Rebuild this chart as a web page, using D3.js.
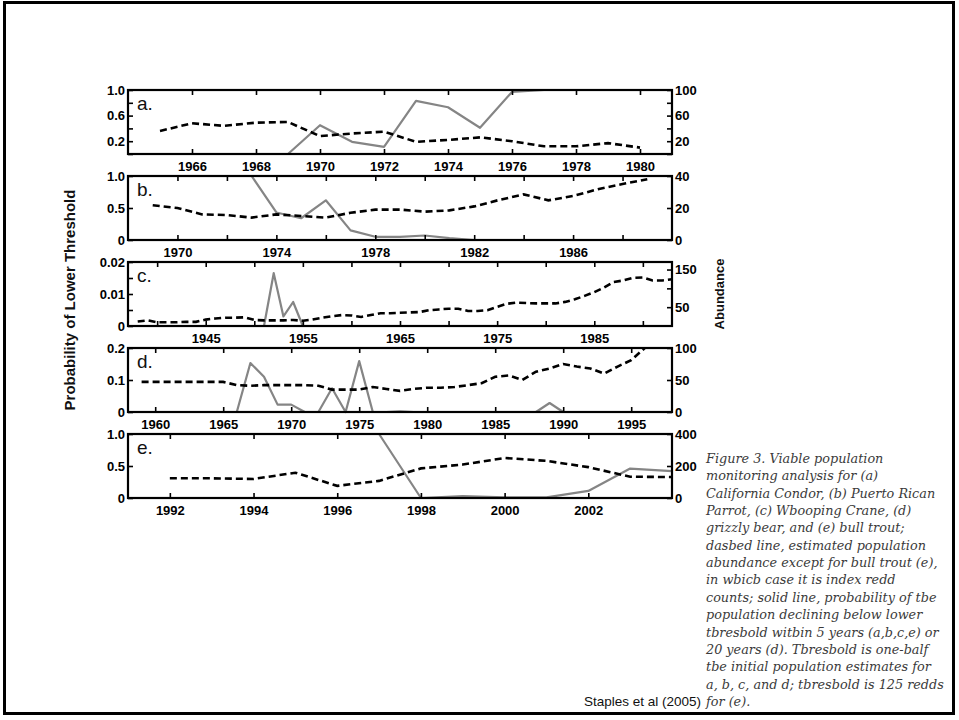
<!DOCTYPE html>
<html><head><meta charset="utf-8">
<script src="https://cdn.jsdelivr.net/npm/d3@7/dist/d3.min.js"></script>
<style>body{margin:0;background:#fff}svg{display:block}</style>
</head><body>
<svg id="chart" width="959" height="720"></svg>
<script>
// ---------------- DATA ----------------
// (a) California Condor
const yearsA = [1965,1966,1967,1968,1969,1970,1971,1972,1973,1974,1975,1976,1977,1978,1979,1980];
const abundanceA = [36,48,44,49,50,28,32,35,19,22,26,20,12,12,17,10];
const probYearsA = [1969,1970,1971,1972,1973,1974,1975,1976,1977,1978,1979,1980];
const probA = [0,0.45,0.19,0.11,0.83,0.73,0.41,0.97,1,1,1,1];
const xTicksA = [1966,1968,1970,1972,1974,1976,1978,1980];

// (b) Puerto Rican Parrot
const yearsB = [1969,1970,1971,1972,1973,1974,1975,1976,1977,1978,1979,1980,1981,1982,1983,1984,1985,1986,1987,1988,1989];
const abundanceB = [21.7,20,16,15.6,14,16,15,14,17,19,19,17.7,18.5,21,25,28.5,24.8,27.5,31.7,35,38];
const probYearsB = [1973,1974,1975,1976,1977,1978,1979,1980,1981,1982,1983,1984,1985,1986,1987,1988,1989];
const probB = [1,0.43,0.34,0.62,0.15,0.05,0.05,0.07,0.03,0,0,0,0,0,0,0,0];
const xTicksB = [1970,1972,1974,1976,1978,1980,1982,1984,1986,1988];
const xLabelsB = [1970,1974,1978,1982,1986];

// (c) Whooping Crane
const yearsC = [1938,1939,1940,1941,1942,1943,1944,1945,1946,1947,1948,1949,1950,1951,1952,1953,1954,1955,1956,1957,1958,1959,1960,1961,1962,1963,1964,1965,1966,1967,1968,1969,1970,1971,1972,1973,1974,1975,1976,1977,1978,1979,1980,1981,1982,1983,1984,1985,1986,1987,1988,1989,1990,1991,1992,1993];
const abundanceC = [12,15,10,10,10,11,11,17,20,22,22,23,16,15,15,15,16,14,17,22,26,29,28,24,29,34,34,35,36,37,42,44,46,46,40,40,42,51,59,62,61,60,60,60,64,71,80,90,102,117,121,128,129,121,121,124];
const probYearsC = [1950,1951,1952,1953,1954,1955,1956];
const probC = [0,0,0.0165,0.003,0.0075,0,0];
const xTicksC = [1940,1945,1950,1955,1960,1965,1970,1975,1980,1985,1990];
const xLabelsC = [1945,1955,1965,1975,1985];

// (d) Grizzly bear
const yearsD = [1959,1960,1961,1962,1963,1964,1965,1966,1967,1968,1969,1970,1971,1972,1973,1974,1975,1976,1977,1978,1979,1980,1981,1982,1983,1984,1985,1986,1987,1988,1989,1990,1991,1992,1993,1994,1995,1996];
const abundanceD = [47,47,47,47,47,47,47,42,41,42,42,42,42,41,35,35,35,39,36,33,36,38,38,39,42,45,55,57,50,63,68,75,71,68,60,71,81,100];
const probYearsD = [1966,1967,1968,1969,1970,1971,1972,1973,1974,1975,1976,1977,1978,1979,1980,1981,1982,1983,1984,1985,1986,1987,1988,1989,1990];
const probD = [0,0.153,0.11,0.023,0.023,0,0,0.074,0,0.159,0,0,0.002,0,0,0,0,0,0,0,0,0,0,0.028,0];
const xTicksD = [1960,1965,1970,1975,1980,1985,1990,1995];

// (e) Bull trout
const yearsE = [1992,1993,1994,1995,1996,1997,1998,1999,2000,2001,2002,2003,2004];
const abundanceE = [123,123,119,158,76,107,185,209,250,232,193,133,131];
const probYearsE = [1994,1995,1996,1997,1998,1999,2000,2001,2002,2003,2004];
const probE = [1,1,1,1,0,0.03,0.01,0.01,0.11,0.46,0.42];
const xTicksE = [1992,1994,1996,1998,2000,2002];

// axis ticks
const leftTicksA = [0,0.2,0.4,0.6,0.8,1.0], leftLabelsA = [0.2,0.6,1.0];
const rightTicksA = [0,20,40,60,80,100], rightLabelsA = [20,60,100];
const leftTicksB = [0,0.5,1], rightTicksB = [0,20,40];
const leftTicksC = [0,0.005,0.01,0.015,0.02], leftLabelsC = [0,0.01,0.02];
const rightTicksC = [50,100,150], rightLabelsC = [50,150];
const leftTicksD = [0,0.1,0.2], rightTicksD = [0,50,100];
const leftTicksE = [0,0.5,1], rightTicksE = [0,200,400];

const captionLines = [
  "Figure 3.  Viable population",
  "monitoring analysis for (a)",
  "California Condor, (b) Puerto Rican",
  "Parrot, (c) Wbooping Crane, (d)",
  "grizzly bear, and (e) bull trout;",
  "dasbed line, estimated population",
  "abundance except for bull trout (e),",
  "in wbicb case it is index redd",
  "counts; solid line, probability of tbe",
  "population declining below lower",
  "tbresbold witbin 5 years (a,b,c,e) or",
  "20 years (d). Tbresbold is one-balf",
  "tbe initial population estimates for",
  "a, b, c, and d; tbresbold is 125 redds",
  "for (e)."
];

// ---------------- CHART ----------------
const svg = d3.select("#chart");
const SANS = "'Liberation Sans', Arial, sans-serif";

svg.append("rect").attr("x",4.5).attr("y",2.5).attr("width",949).attr("height",711)
  .attr("fill","none").attr("stroke","#000").attr("stroke-width",3);

const X0 = 128, X1 = 672, PH = 64;
const fmt = (labels, f) => d => labels.some(l => Math.abs(l - d) < 1e-9) ? f(d) : "";

const panels = [
  {id:"a.", top:90, xd:[1964,1981], xt:xTicksA, xl:xTicksA, ld:[0,1], lt:leftTicksA, ll:leftLabelsA, lf:d3.format(".1f"),
   rd:[0,100], rt:rightTicksA, rl:rightLabelsA, ay:yearsA, av:abundanceA, py:probYearsA, pv:probA},
  {id:"b.", top:176, xd:[1968,1990], xt:xTicksB, xl:xLabelsB, ld:[0,1], lt:leftTicksB, ll:leftTicksB, lf:d => d===0?"0":d3.format(".1f")(d),
   rd:[0,40], rt:rightTicksB, rl:rightTicksB, ay:yearsB, av:abundanceB, py:probYearsB, pv:probB},
  {id:"c.", top:262, xd:[1937,1993], xt:xTicksC, xl:xLabelsC, ld:[0,0.02], lt:leftTicksC, ll:leftLabelsC, lf:d => d===0?"0":d3.format(".2f")(d),
   rd:[0,170], rt:rightTicksC, rl:rightLabelsC, ay:yearsC, av:abundanceC, py:probYearsC, pv:probC},
  {id:"d.", top:348, xd:[1958,1998], xt:xTicksD, xl:xTicksD, ld:[0,0.2], lt:leftTicksD, ll:leftTicksD, lf:d => d===0?"0":d3.format(".1f")(d),
   rd:[0,100], rt:rightTicksD, rl:rightTicksD, ay:yearsD, av:abundanceD, py:probYearsD, pv:probD},
  {id:"e.", top:434, xd:[1991,2004], xt:xTicksE, xl:xTicksE, ld:[0,1], lt:leftTicksE, ll:leftTicksE, lf:d => d===0?"0":d3.format(".1f")(d),
   rd:[0,400], rt:rightTicksE, rl:rightTicksE, ay:yearsE, av:abundanceE, py:probYearsE, pv:probE}
];

panels.forEach(p => {
  const top = p.top, bot = p.top + PH;
  const x = d3.scaleLinear().domain(p.xd).range([X0, X1]);
  const yL = d3.scaleLinear().domain(p.ld).range([bot, top]);
  const yR = d3.scaleLinear().domain(p.rd).range([bot, top]);
  const g = svg.append("g");

  // solid: probability (left axis)
  g.append("path")
    .datum(p.py.map((yr,i) => [yr, p.pv[i]]))
    .attr("fill","none").attr("stroke","#858585").attr("stroke-width",2.2)
    .attr("stroke-linejoin","round")
    .attr("d", d3.line().x(d => x(d[0])).y(d => yL(d[1])));

  // dashed: abundance (right axis)
  g.append("path")
    .datum(p.ay.map((yr,i) => [yr, p.av[i]]))
    .attr("fill","none").attr("stroke","#000").attr("stroke-width",2.6)
    .attr("stroke-dasharray","7,4")
    .attr("d", d3.line().x(d => x(d[0])).y(d => yR(d[1])));

  // frame
  g.append("rect").attr("x",X0).attr("y",top).attr("width",X1-X0).attr("height",PH)
    .attr("fill","none").attr("stroke","#000").attr("stroke-width",2.2);

  const styleAxis = sel => {
    sel.select(".domain").remove();
    sel.selectAll(".tick line").attr("stroke","#000").attr("stroke-width",1.6);
    sel.selectAll("text").attr("font-family",SANS).attr("font-weight","bold")
      .attr("font-size","13px").attr("fill","#000");
  };

  g.append("g").attr("transform",`translate(0,${bot})`)
    .call(d3.axisBottom(x).tickValues(p.xt).tickSizeInner(-5).tickSizeOuter(0).tickPadding(8)
      .tickFormat(fmt(p.xl, d => String(d))))
    .call(styleAxis);
  g.append("g").attr("transform",`translate(0,${top})`)
    .call(d3.axisTop(x).tickValues(p.xt).tickSizeInner(-5).tickSizeOuter(0).tickFormat(""))
    .call(styleAxis);
  g.append("g").attr("transform",`translate(${X0},0)`)
    .call(d3.axisLeft(yL).tickValues(p.lt).tickSizeInner(-5).tickSizeOuter(0).tickPadding(3)
      .tickFormat(fmt(p.ll, p.lf)))
    .call(styleAxis);
  g.append("g").attr("transform",`translate(${X1},0)`)
    .call(d3.axisRight(yR).tickValues(p.rt).tickSizeInner(-5).tickSizeOuter(0).tickPadding(3)
      .tickFormat(fmt(p.rl, d => String(d))))
    .call(styleAxis);

  g.append("text").attr("x",X0+9).attr("y",top+20).text(p.id)
    .attr("font-family",SANS).attr("font-size","19px").attr("fill","#111");
});

// axis titles
svg.append("text").attr("transform","translate(75,300) rotate(-90)")
  .attr("text-anchor","middle").attr("font-family",SANS).attr("font-weight","bold")
  .attr("font-size","15px").attr("fill","#111").text("Probability of Lower Threshold");
svg.append("text").attr("transform","translate(724,294) rotate(-90)")
  .attr("text-anchor","middle").attr("font-family",SANS).attr("font-weight","bold")
  .attr("font-size","13px").attr("fill","#111").text("Abundance");

// caption
const cap = svg.append("text").attr("font-family","'DejaVu Serif', 'Liberation Serif', serif")
  .attr("font-style","italic").attr("font-size","12.8px").attr("fill","#3a3a3a");
captionLines.forEach((t,i) => {
  cap.append("tspan").attr("x",706).attr("y",463 + i*17.35).text(t);
});

svg.append("text").attr("x",701).attr("y",706).attr("text-anchor","end")
  .attr("font-family",SANS).attr("font-size","13.5px").attr("fill","#111").text("Staples et al (2005)");
</script>
</body></html>
